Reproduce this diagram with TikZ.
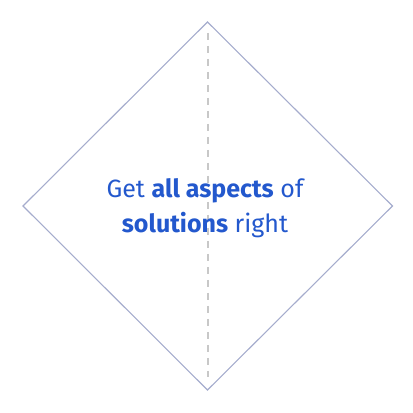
\documentclass[tikz,border=0pt]{standalone}
\usepackage{fontspec}
\setmainfont{Fira Sans}
\usepackage{tikz}
\definecolor{edgeblue}{RGB}{165,172,205}
\definecolor{dashgray}{RGB}{200,200,200}
\definecolor{textblue}{RGB}{35,88,205}
\tikzset{
    outline/.style={draw=edgeblue, line width=1.1pt},
    midline/.style={draw=dashgray, line width=2pt, dash pattern=on 7pt off 6pt},
    caption/.style={text=textblue, align=center, font=\fontsize{25}{35}\selectfont}
}

\begin{document}
\begin{tikzpicture}[x=1pt,y=1pt]
    \useasboundingbox (0,0) rectangle (413,413);

    % Corners of the diamond
    \coordinate (top) at (207.5,391);
    \coordinate (right) at (392.5,207);
    \coordinate (bottom) at (207.5,23);
    \coordinate (left) at (23,207);

    % Draw diamond
    \draw[outline] (top) -- (right) -- (bottom) -- (left) -- cycle;

    % Dashed middle line
    \draw[midline, shorten <=11pt, shorten >=13pt] (top) -- (bottom);

    % Text in the middle
    \node[caption] (label) at (205,205) {Get \textbf{all aspects} of\\\textbf{solutions} right};
\end{tikzpicture}
\end{document}
